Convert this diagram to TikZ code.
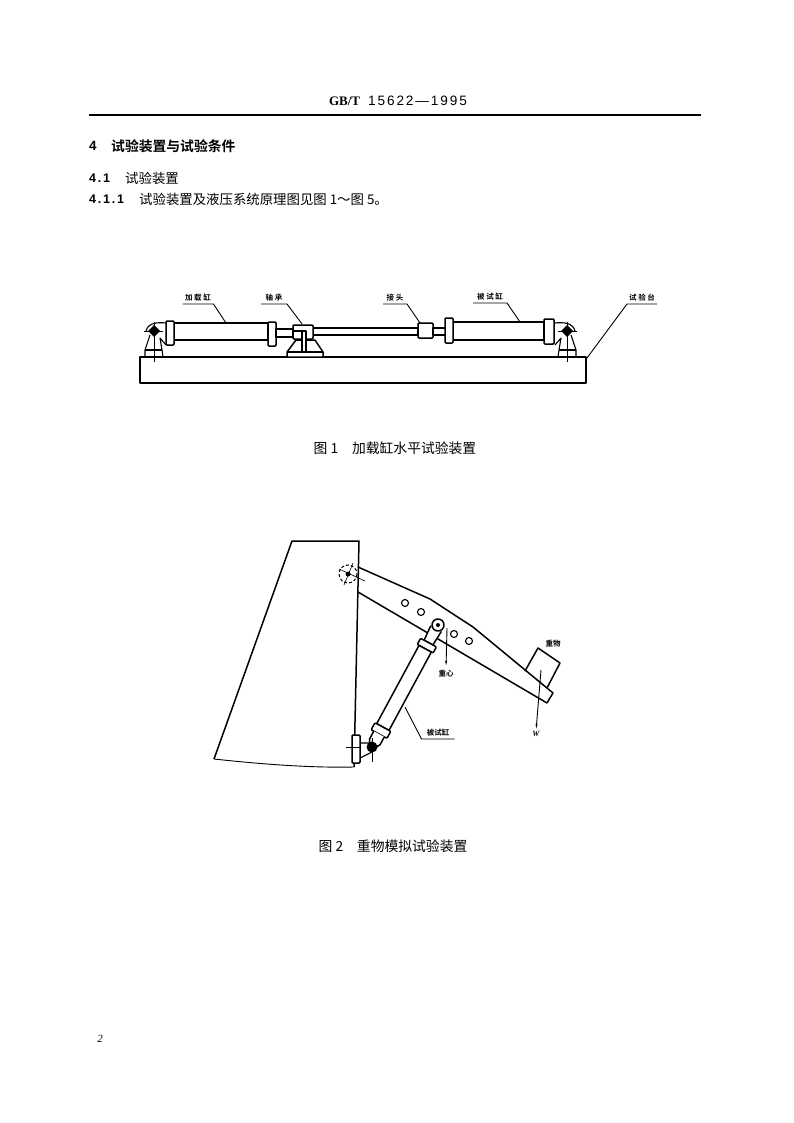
\documentclass[tikz,border=0pt]{standalone}
\usepackage{fontspec}
\setmainfont{Liberation Serif}
\newfontfamily\cjk{Noto Sans CJK SC}
\newfontfamily\cjkbold{Noto Sans CJK SC Bold}
\newfontfamily\digitfont[LetterSpace=14]{Liberation Sans}
\newfontfamily\numfont{Liberation Sans}
\usetikzlibrary{arrows.meta,positioning}
\begin{document}
\begin{tikzpicture}[x=1pt,y=-1pt,
  part/.style={draw=black, line width=1.5pt, fill=white, line join=round},
  thinline/.style={draw=black, line width=0.6pt},
  leader/.style={draw=black, line width=0.9pt},
  tag/.style={font=\cjkbold\fontsize{7.5}{8}\selectfont, inner sep=1pt, outer sep=0pt, text height=7pt, text depth=3pt},
  bodytext/.style={anchor=west, inner sep=0pt, font=\fontsize{13.4}{15}\selectfont},
  caption/.style={inner sep=0pt, font=\cjk\fontsize{13.8}{15}\selectfont}]
\useasboundingbox (0,0) rectangle (794,1123);
\fill[white] (0,0) rectangle (794,1123);
% Page head
\node[inner sep=0pt, font=\fontsize{13}{15}\selectfont] (head) at (398,101) {\textbf{GB/T}\hspace{8pt}{\digitfont\fontsize{13.6}{15}\selectfont 15622—1995}};
\coordinate (ruleL) at (89,115);
\coordinate (ruleR) at (701,115);
\draw[line width=1.1pt] (ruleL) -- (ruleR);
\node[bodytext] (secnum) at (89,146) {\numfont\bfseries 4};
\node[bodytext] (sec) at (111,146) {\cjkbold\fontsize{13.8}{15}\selectfont 试验装置与试验条件};
\node[bodytext] (subnum) at (89,178) {\digitfont\bfseries\fontsize{12.5}{15}\selectfont 4.1};
\node[bodytext] (sub) at (125,178) {\cjk 试验装置};
\node[bodytext] (itemnum) at (89,199) {\digitfont\bfseries\fontsize{12.5}{15}\selectfont 4.1.1};
\node[bodytext] (item) at (139,199) {\cjk\fontsize{13.4}{15}\selectfont 试验装置及液压系统原理图见图\hspace{3pt}1～图\hspace{3pt}5。};
% Figure 1: bench
\draw[part] (140,357) rectangle (586,383);
% Figure 1: end mounts
\foreach \px/\sx in {154/1,567/-1} {
  \begin{scope}[shift={(\px,331)},xscale=\sx]
    \draw[part, fill=none, line width=1.1pt] (-9,26) -- (-9,19) -- (-4,4) (9,26) -- (8,19) -- (6,7) -- (12,14);
    \draw[part, fill=none, line width=1.1pt] (-9,19) -- (8,19);
    \draw[part, fill=none, line width=1.1pt] (12,-8) .. controls (3,-9) and (-6,-8) .. (-8,0);
    \draw[thinline] (-10,0) -- (9,0) (0,-9) -- (0,31);
    \fill[black] (-6,0) -- (0,-6) -- (6,0) -- (0,6) -- cycle;
  \end{scope}
}
% Figure 1: loading cylinder
\draw[part] (174,323) rectangle (268,340);
\draw[part, rounded corners=1pt] (166,321) rectangle (174,345);
\draw[part, rounded corners=1pt] (268,322) rectangle (276,346);
\draw[part] (276,329) rectangle (293,337);
% Figure 1: rod
\draw[part] (313,328) rectangle (418,335);
% Figure 1: bearing
\draw[part] (296,340) -- (287,352) -- (287,357) -- (323,357) -- (323,352) -- (315,340) -- cycle;
\draw[part] (287,352) -- (323,352);
\draw[part, rounded corners=1pt] (293,325) rectangle (313,339);
\draw[part] (302,331) rectangle (306,352);
\draw[part] (293,331) -- (302,331);
% Figure 1: joint and tested cylinder
\draw[part, rounded corners=1pt] (418,323) rectangle (433,338);
\draw[part] (433,328) rectangle (446,335);
\draw[part] (453,322) rectangle (544,340);
\draw[part, rounded corners=1pt] (445,318) rectangle (453,343);
\draw[part, rounded corners=1pt] (544,319) rectangle (554,344);
% Figure 1: labels and leaders
\node[tag, minimum width=31pt] (loadcyl) at (198,298) {加 载 缸};
\node[tag, minimum width=26pt] (bearing) at (274,298) {轴\ 承};
\node[tag, minimum width=24pt] (joint) at (395,298) {接\ 头};
\node[tag, minimum width=34pt] (testcyl) at (490,297) {被 试 缸};
\node[tag, minimum width=30pt] (bench) at (642,298) {试 验 台};
\coordinate (loadtip) at (226,323);
\coordinate (beartip) at (302,324);
\coordinate (jointtip) at (420,323);
\coordinate (testtip) at (520,322);
\coordinate (benchtip) at (587,358);
\draw[leader] (loadcyl.south west) -- (loadcyl.south east) -- (loadtip);
\draw[leader] (bearing.south west) -- (bearing.south east) -- (beartip);
\draw[leader] (joint.south west) -- (joint.south east) -- (jointtip);
\draw[leader] (testcyl.south west) -- (testcyl.south east) -- (testtip);
\draw[leader] (bench.south east) -- (bench.south west) -- (benchtip);
\node[caption] (cap1) at (395,448) {图 1\quad 加载缸水平试验装置};
% Figure 2: block
\draw[part, fill=none] (214,759) -- (292,541) -- (359,541) -- (354,767);
\draw[line width=0.9pt] (214,759) .. controls (260,764) and (310,768) .. (354,767);
% Figure 2: arm
\draw[part, fill=none] (525,671) -- (538,648) -- (560,663) -- (547,688);
\draw[part, fill=none] (358,567) -- (430,599) -- (473,627) -- (553,693) -- (547,703) -- (358,592);
\foreach \hx/\hy in {405/603,421/612,454/634,469/641} {
  \draw[line width=1.1pt] (\hx,\hy) circle (3.5);
}
% Figure 2: upper pivot
\draw[line width=1pt, densely dashed] (348,574) circle (9);
\fill[black] (348,574) circle (2.5);
\draw[thinline] (339,569) -- (365,581) (353,563) -- (344,585);
% Figure 2: tested cylinder
\begin{scope}[shift={(438,625)},rotate=241.6]
  \draw[part] (4,-6) -- (20,-5) -- (20,5) -- (4,6);
  \draw[part, rounded corners=1pt] (20,-9) rectangle (27,9);
  \draw[part] (27,-7) rectangle (116,7);
  \draw[part, rounded corners=1pt] (116,-9) rectangle (124,9);
  \draw[part] (124,-6) -- (133,-6) -- (142,0) -- (133,6) -- (124,6);
\end{scope}
\draw[part] (438,625) circle (6);
\fill[black] (438,625) circle (2);
% Figure 2: lower mount
\draw[line width=1.1pt] (360,743) -- (370,743) (360,758) -- (372,752);
\draw[part, rounded corners=1pt] (352,735) rectangle (360,763);
\fill[black] (372,747) circle (5.5);
\draw[thinline] (346,747) -- (360,747) (372,738) -- (372,762);
% Figure 2: labels and leaders
\node[tag] (massname) at (553,644) {重物};
\node[tag] (cog) at (446,674) {重心};
\node[tag, minimum width=33pt] (testcyl2) at (438,733) {被试缸};
\node[inner sep=0pt, font=\itshape\fontsize{8}{9}\selectfont] (weight) at (536,734) {\textbf{W}};
\coordinate (massc) at (541,670);
\coordinate (cogtip) at (447,628);
\coordinate (cyltip) at (405,707);
\draw[leader, -{Latex[length=7pt,width=2pt]}] (massc) -- (weight.north);
\draw[leader, -{Latex[length=7pt,width=2pt]}] (cogtip) -- (cog.north);
\draw[leader] (cyltip) -- (testcyl2.south west) -- (testcyl2.south east);
\node[caption] (cap2) at (393,846) {图 2\quad 重物模拟试验装置};
% Page number
\node[inner sep=0pt, font=\itshape\fontsize{11}{13}\selectfont] (page) at (100,1039) {2};
\end{tikzpicture}
\end{document}
